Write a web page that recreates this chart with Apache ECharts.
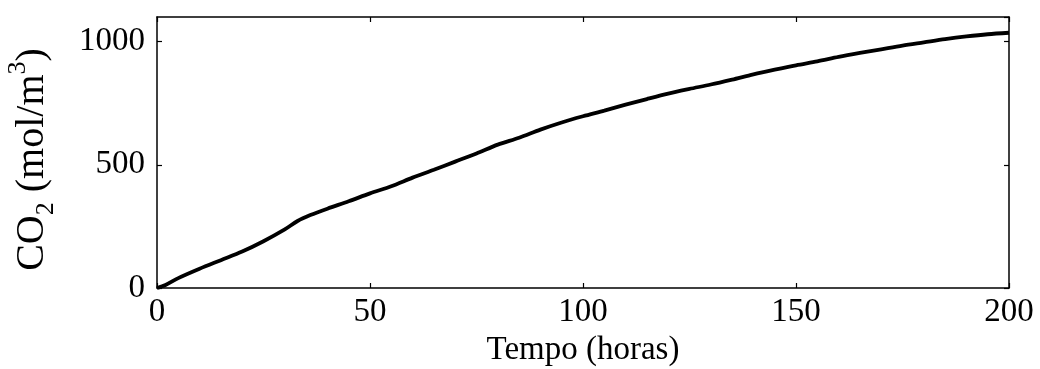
<!DOCTYPE html>
<html>
<head>
<meta charset="utf-8">
<script src="https://cdn.jsdelivr.net/npm/echarts@6/dist/echarts.min.js"></script>
<style>
  html, body { margin: 0; padding: 0; background: #fff; }
  #chart { width: 1040px; height: 369px; }
</style>
</head>
<body>
<div id="chart"></div>
<script>
// CO2 concentration over time
const tempoHoras = [0, 2, 5, 10, 15, 20, 25, 30, 33, 36, 40, 45, 50, 55, 60, 65, 70, 75, 80, 85,
  90, 95, 100, 105, 110, 115, 120, 125, 130, 135, 140, 145, 150, 155, 160, 165, 170, 175, 180,
  185, 190, 195, 200];
const co2 = [0, 12, 40, 78, 113, 148, 190, 238, 272, 296, 322, 352, 384, 413, 448, 480, 513, 546, 582, 610,
  643, 672, 697, 720, 744, 767, 789, 808, 826, 846, 867, 886, 904, 920, 938, 954, 969, 984, 997,
  1010, 1021, 1030, 1036];
const xTicks = [0, 50, 100, 150, 200];
const yTicks = [0, 500, 1000];

const FONT = 'Liberation Serif';
const chart = echarts.init(document.getElementById('chart'), null, { renderer: 'canvas' });

const frameLine = { show: true, onZero: false, lineStyle: { color: '#000', width: 1.5 } };
const innerTick = { show: true, inside: true, length: 5, lineStyle: { color: '#000', width: 1.2 } };

chart.setOption({
  animation: false,
  backgroundColor: '#fff',
  grid: { left: 157, right: 31, top: 17, bottom: 81, containLabel: false, outerBoundsMode: 'none' },
  xAxis: [
    {
      type: 'value', min: xTicks[0], max: xTicks[xTicks.length - 1], interval: 50,
      axisLine: frameLine, axisTick: innerTick, splitLine: { show: false },
      axisLabel: { color: '#000', fontFamily: FONT, fontSize: 33, margin: 8 },
      name: 'Tempo (horas)', nameLocation: 'middle', nameGap: 46,
      nameTextStyle: { color: '#000', fontFamily: FONT, fontSize: 33 }
    },
    {
      type: 'value', position: 'top', min: xTicks[0], max: xTicks[xTicks.length - 1], interval: 50,
      axisLine: frameLine, axisTick: innerTick, splitLine: { show: false }, axisLabel: { show: false }
    }
  ],
  yAxis: [
    {
      type: 'value', min: 0, max: 1100, interval: 500,
      axisLine: frameLine, axisTick: innerTick, splitLine: { show: false },
      axisLabel: { color: '#000', fontFamily: FONT, fontSize: 33, margin: 12, showMaxLabel: false,
        formatter: v => (yTicks.includes(v) ? String(v) : '') },
      name: '{a|CO}{sub|2}{a| (mol/m}{sup|3}{a|)}', nameLocation: 'middle', nameGap: 98,
      nameRotate: 90,
      nameTextStyle: {
        color: '#000', fontFamily: FONT, fontSize: 40, padding: [0, 14, 0, 0],
        rich: {
          a: { fontFamily: FONT, fontSize: 40, color: '#000', lineHeight: 54 },
          sub: { fontFamily: FONT, fontSize: 26, color: '#000', lineHeight: 26, verticalAlign: 'bottom' },
          sup: { fontFamily: FONT, fontSize: 26, color: '#000', lineHeight: 26, verticalAlign: 'top' }
        }
      }
    },
    {
      type: 'value', position: 'right', min: 0, max: 1100, interval: 500,
      axisLine: frameLine, axisTick: innerTick, splitLine: { show: false }, axisLabel: { show: false }
    }
  ],
  series: [{
    type: 'line',
    data: tempoHoras.map((t, i) => [t, co2[i]]),
    smooth: 0.3,
    showSymbol: false,
    lineStyle: { color: '#000', width: 3.8 }
  }]
});
</script>
</body>
</html>
